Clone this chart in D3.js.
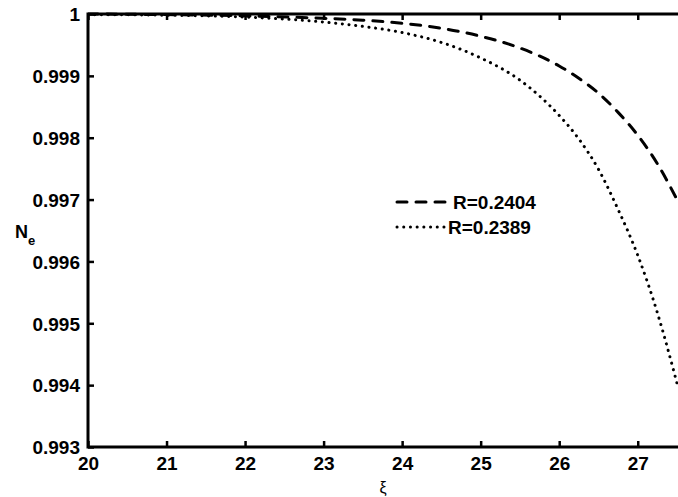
<!DOCTYPE html>
<html>
<head>
<meta charset="utf-8">
<script src="https://cdn.jsdelivr.net/npm/d3@7"></script>
<style>
  html, body { margin: 0; padding: 0; background: #fff; }
  svg { display: block; }
  text { font-family: "Liberation Sans", Arial, sans-serif; }
</style>
</head>
<body>
<svg id="chart" width="678" height="497"></svg>
<script>
// ---- data ----
const xiValues = [20, 21, 22, 23, 23.5, 24, 24.5, 25, 25.5, 26, 26.25, 26.5, 26.75, 27, 27.25, 27.5];
const seriesA = [1.00000, 0.99999, 0.99997, 0.99993, 0.99990, 0.99985, 0.99977, 0.99964, 0.99945, 0.99916, 0.99896, 0.99872, 0.99841, 0.99804, 0.99758, 0.99700]; // R=0.2404
const seriesB = [0.99999, 0.99998, 0.99995, 0.99987, 0.99980, 0.99970, 0.99954, 0.99929, 0.99893, 0.99836, 0.99798, 0.99749, 0.99684, 0.99610, 0.99517, 0.99403]; // R=0.2389
const seriesNames = ["R=0.2404", "R=0.2389"];
const xTicks = [20, 21, 22, 23, 24, 25, 26, 27];
const yTicks = [0.993, 0.994, 0.995, 0.996, 0.997, 0.998, 0.999, 1];

// ---- layout ----
const L = 88, R = 677, T = 14, B = 447;
const svg = d3.select("#chart");
const x = d3.scaleLinear().domain([20, 27.5]).range([L, R]);
const y = d3.scaleLinear().domain([0.993, 1]).range([B, T]);

const line = d3.line().x(d => x(d[0])).y(d => y(d[1])).curve(d3.curveMonotoneX);
const styles = [
  { dash: "10 9", cap: "round" },
  { dash: "0.1 6.6", cap: "round" }
];
const allSeries = [seriesA, seriesB];

svg.append("clipPath").attr("id", "clip")
  .append("rect").attr("x", L).attr("y", T - 2).attr("width", R - L + 2).attr("height", B - T + 2);

allSeries.forEach((s, i) => {
  svg.append("path")
    .attr("clip-path", "url(#clip)")
    .attr("d", line(xiValues.map((v, j) => [v, s[j]])))
    .attr("fill", "none").attr("stroke", "#000")
    .attr("stroke-width", 3)
    .attr("stroke-dasharray", styles[i].dash)
    .attr("stroke-linecap", styles[i].cap);
});

// axes
const fmtY = d => d === 1 ? "1" : d3.format(".3f")(d);
const gx = svg.append("g").attr("transform", `translate(0,${B})`)
  .call(d3.axisBottom(x).tickValues(xTicks).tickSize(-6).tickPadding(10).tickFormat(d3.format("d")));
const gxt = svg.append("g").attr("transform", `translate(0,${T})`)
  .call(d3.axisTop(x).tickValues(xTicks).tickSize(-6).tickFormat(""));
const gy = svg.append("g").attr("transform", `translate(${L},0)`)
  .call(d3.axisLeft(y).tickValues(yTicks).tickSize(-6).tickPadding(8).tickFormat(fmtY));

[gx, gxt, gy].forEach(g => {
  g.select(".domain").remove();
  g.selectAll(".tick line").attr("stroke", "#000").attr("stroke-width", 2.5);
  g.selectAll(".tick text").attr("fill", "#000")
    .style("font-size", "19px").style("font-weight", "bold");
});
gx.selectAll(".tick text").attr("dy", "0.71em");
gy.selectAll(".tick text").attr("dy", "0.36em");

// box lines (left, bottom, top)
svg.append("path")
  .attr("d", `M${R + 3},${T}H${L}V${B}H${R + 3}`)
  .attr("fill", "none").attr("stroke", "#000").attr("stroke-width", 3);

// legend
const legend = [
  { x1: 397, x2: 450, y: 202, tx: 453 },
  { x1: 397, x2: 444, y: 227, tx: 448 }
];
legend.forEach((lg, i) => {
  svg.append("line")
    .attr("x1", lg.x1).attr("x2", lg.x2).attr("y1", lg.y).attr("y2", lg.y)
    .attr("stroke", "#000").attr("stroke-width", 3)
    .attr("stroke-dasharray", styles[i].dash)
    .attr("stroke-linecap", styles[i].cap);
  svg.append("text")
    .attr("x", lg.tx).attr("y", lg.y).attr("dy", "0.36em")
    .style("font-size", "19px").style("font-weight", "bold")
    .text(seriesNames[i]);
});

// axis labels
svg.append("text").attr("x", 383).attr("y", 493)
  .attr("text-anchor", "middle").style("font-size", "16px")
  .text("ξ");
const ylab = svg.append("text").attr("x", 15).attr("y", 238)
  .style("font-size", "18px").style("font-weight", "bold");
ylab.append("tspan").text("N");
ylab.append("tspan").attr("dy", 7).style("font-size", "13px").text("e");
</script>
</body>
</html>
